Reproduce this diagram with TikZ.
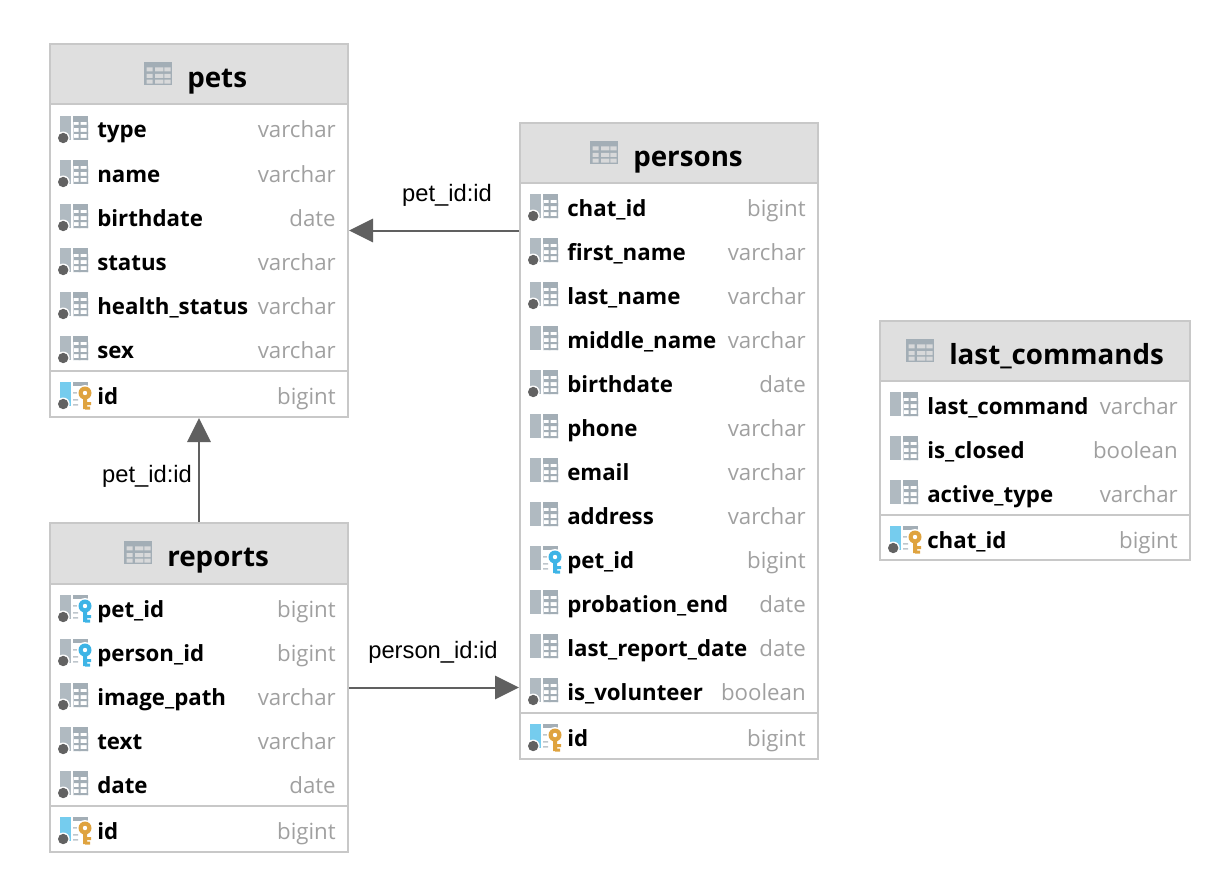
\documentclass[tikz,border=0pt]{standalone}
\usepackage{fontspec}
\setmainfont{Open Sans}
\newfontfamily\labelfont{Liberation Sans}
\usetikzlibrary{arrows.meta,fit}
\definecolor{framegray}{HTML}{C8C8C8}
\definecolor{headgray}{HTML}{DFDFDF}
\definecolor{bargray}{HTML}{B0BAC1}
\definecolor{gridgray}{HTML}{A3AEB6}
\definecolor{cellgray}{HTML}{D8D9DA}
\definecolor{dotgray}{HTML}{626262}
\definecolor{typegray}{HTML}{A0A0A0}
\definecolor{pkblue}{HTML}{75CCEE}
\definecolor{fkblue}{HTML}{3DB4E6}
\definecolor{pkgold}{HTML}{DFA33F}
\definecolor{linkgray}{HTML}{606060}
\tikzset{
  tbl/.style={draw=framegray,line width=1.5pt,inner sep=0pt},
  sepline/.style={draw=framegray,line width=1.5pt},
  titletext/.style={anchor=base west,inner sep=0pt,font=\fontsize{20.8}{24}\selectfont\bfseries},
  nametext/.style={anchor=base west,inner sep=0pt,font=\fontsize{16.7}{20}\selectfont\bfseries},
  typetext/.style={anchor=base east,inner sep=0pt,text=typegray,font=\fontsize{16.7}{20}\selectfont},
  linklabel/.style={inner sep=0pt,font=\labelfont\fontsize{17.8}{20}\selectfont},
  fklink/.style={draw=linkgray,line width=1.5pt,-{Triangle[width=17.5pt,length=18pt]}},
}
% icon pieces, origin at left end of the row centre
\newcommand{\icongrid}{
  \fill[bargray] (0,-14) rectangle (11,10);
  \fill[gridgray] (13,-14) rectangle (28,-8);
  \fill[gridgray] (13,-5) rectangle (28,-2) (13,2) rectangle (28,4) (13,8) rectangle (28,10);
  \fill[gridgray] (18.5,-8) rectangle (20.5,10) (26.7,-8) rectangle (28,10);
  \fill[gridgray!50] (13,-8) rectangle (14,10);
}
\newcommand{\iconlines}[1]{
  \fill[#1] (0,-14) rectangle (11,10);
  \fill[gridgray] (13,-14) rectangle (28,-10.5);
  \fill[gridgray!70] (13,-4) rectangle (18,-2.5) (13,3) rectangle (18,4.5) (13,8) rectangle (18,9.5);
}
\newcommand{\icondot}{
  \fill[white] (3.2,8) circle (6.5);
  \fill[dotgray] (3.2,8) circle (5.2);
}
\newcommand{\iconkey}[1]{
  \fill[white] (25,-3) circle (8);
  \fill[#1] (23,-3) rectangle (27,13) (25,6) rectangle (31,9) (25,10.5) rectangle (30,13.5);
  \fill[#1] (25,-3) circle (6.5);
  \fill[white] (25,-3) circle (2.2);
}
\newcommand{\colrow}[7]{% kind, id, left, right, y, name, type
  \begin{scope}[shift={(#3+10,#5)}]
    \ifcase#1 \icongrid \or \icongrid\icondot \or \iconlines{bargray}\icondot\iconkey{fkblue}
    \or \iconlines{bargray}\iconkey{fkblue} \or \iconlines{pkblue}\icondot\iconkey{pkgold} \fi
  \end{scope}
  \node[nametext] (#2name) at (#3+47,#5+8) {#6};
  \node[typetext] (#2type) at (#4-12,#5+8) {#7};
}
\newcommand{\dbtable}[8]{% id, x0, y0, x1, y1, header end, title x, title
  \fill[headgray] (#2,#3) rectangle (#4,#6);
  \draw[sepline] (#2,#6) -- (#4,#6);
  \coordinate (#1a) at (#2,#3);
  \coordinate (#1b) at (#4,#5);
  \node[tbl,fit=(#1a)(#1b)] (#1) {};
  \begin{scope}[shift={(#7-43,#3+18)}]
    \fill[gridgray] (0,0) rectangle (28,23);
    \fill[cellgray] (2.7,5.3) rectangle (8.7,9.3) (11,5.3) rectangle (19.3,9.3) (20.3,5.3) rectangle (26.7,9.3);
    \fill[cellgray] (2.7,12) rectangle (8.7,16) (11,12) rectangle (19.3,16) (20.3,12) rectangle (26.7,16);
    \fill[cellgray] (2.7,17.7) rectangle (8.7,21.7) (11,17.7) rectangle (19.3,21.7) (20.3,17.7) rectangle (26.7,21.7);
  \end{scope}
  \node[titletext] (#1title) at (#7,#3+43.5) {#8};
}
\begin{document}
\begin{tikzpicture}[x=0.75pt,y=-0.75pt]
\useasboundingbox (0,0) rectangle (1231,895);

\dbtable{pets}{50}{44}{348}{417}{104}{187}{pets}
\colrow{1}{pa}{50}{348}{130}{type}{varchar}
\colrow{1}{pb}{50}{348}{174}{name}{varchar}
\colrow{1}{pc}{50}{348}{218}{birthdate}{date}
\colrow{1}{pd}{50}{348}{262}{status}{varchar}
\colrow{1}{pe}{50}{348}{306}{health\_status}{varchar}
\colrow{1}{pf}{50}{348}{350}{sex}{varchar}
\draw[sepline] (50,371) -- (348,371);
\colrow{4}{pg}{50}{348}{396}{id}{bigint}

\dbtable{persons}{520}{123}{818}{759}{183}{633}{persons}
\colrow{1}{ma}{520}{818}{208}{chat\_id}{bigint}
\colrow{1}{mb}{520}{818}{252}{first\_name}{varchar}
\colrow{1}{mc}{520}{818}{296}{last\_name}{varchar}
\colrow{0}{md}{520}{818}{340}{middle\_name}{varchar}
\colrow{1}{me}{520}{818}{384}{birthdate}{date}
\colrow{0}{mf}{520}{818}{428}{phone}{varchar}
\colrow{0}{mg}{520}{818}{472}{email}{varchar}
\colrow{0}{mh}{520}{818}{516}{address}{varchar}
\colrow{3}{mi}{520}{818}{560}{pet\_id}{bigint}
\colrow{0}{mj}{520}{818}{604}{probation\_end}{date}
\colrow{0}{mk}{520}{818}{648}{last\_report\_date}{date}
\colrow{1}{ml}{520}{818}{692}{is\_volunteer}{boolean}
\draw[sepline] (520,713) -- (818,713);
\colrow{4}{mm}{520}{818}{738}{id}{bigint}

\dbtable{reports}{50}{523}{348}{852}{584}{167}{reports}
\colrow{2}{ra}{50}{348}{609}{pet\_id}{bigint}
\colrow{2}{rb}{50}{348}{653}{person\_id}{bigint}
\colrow{1}{rc}{50}{348}{697}{image\_path}{varchar}
\colrow{1}{rd}{50}{348}{741}{text}{varchar}
\colrow{1}{re}{50}{348}{785}{date}{date}
\draw[sepline] (50,806) -- (348,806);
\colrow{4}{rf}{50}{348}{831}{id}{bigint}

\dbtable{lastcmd}{880}{321}{1190}{560}{381}{949}{last\_commands}
\colrow{0}{la}{880}{1190}{406}{last\_command}{varchar}
\colrow{0}{lb}{880}{1190}{450}{is\_closed}{boolean}
\colrow{0}{lc}{880}{1190}{494}{active\_type}{varchar}
\draw[sepline] (880,515) -- (1190,515);
\colrow{4}{ld}{880}{1190}{540}{chat\_id}{bigint}

\draw[fklink] (persons.west |- pets.east) -- (pets.east);
\draw[fklink] (reports.north) -- (pets.south);
\draw[fklink] (reports.east) -- (persons.west |- reports.east);
\node[linklabel] (labela) at (447,195) {pet\_id:id};
\node[linklabel] (labelb) at (147,476) {pet\_id:id};
\node[linklabel] (labelc) at (433,652) {person\_id:id};
\end{tikzpicture}
\end{document}
